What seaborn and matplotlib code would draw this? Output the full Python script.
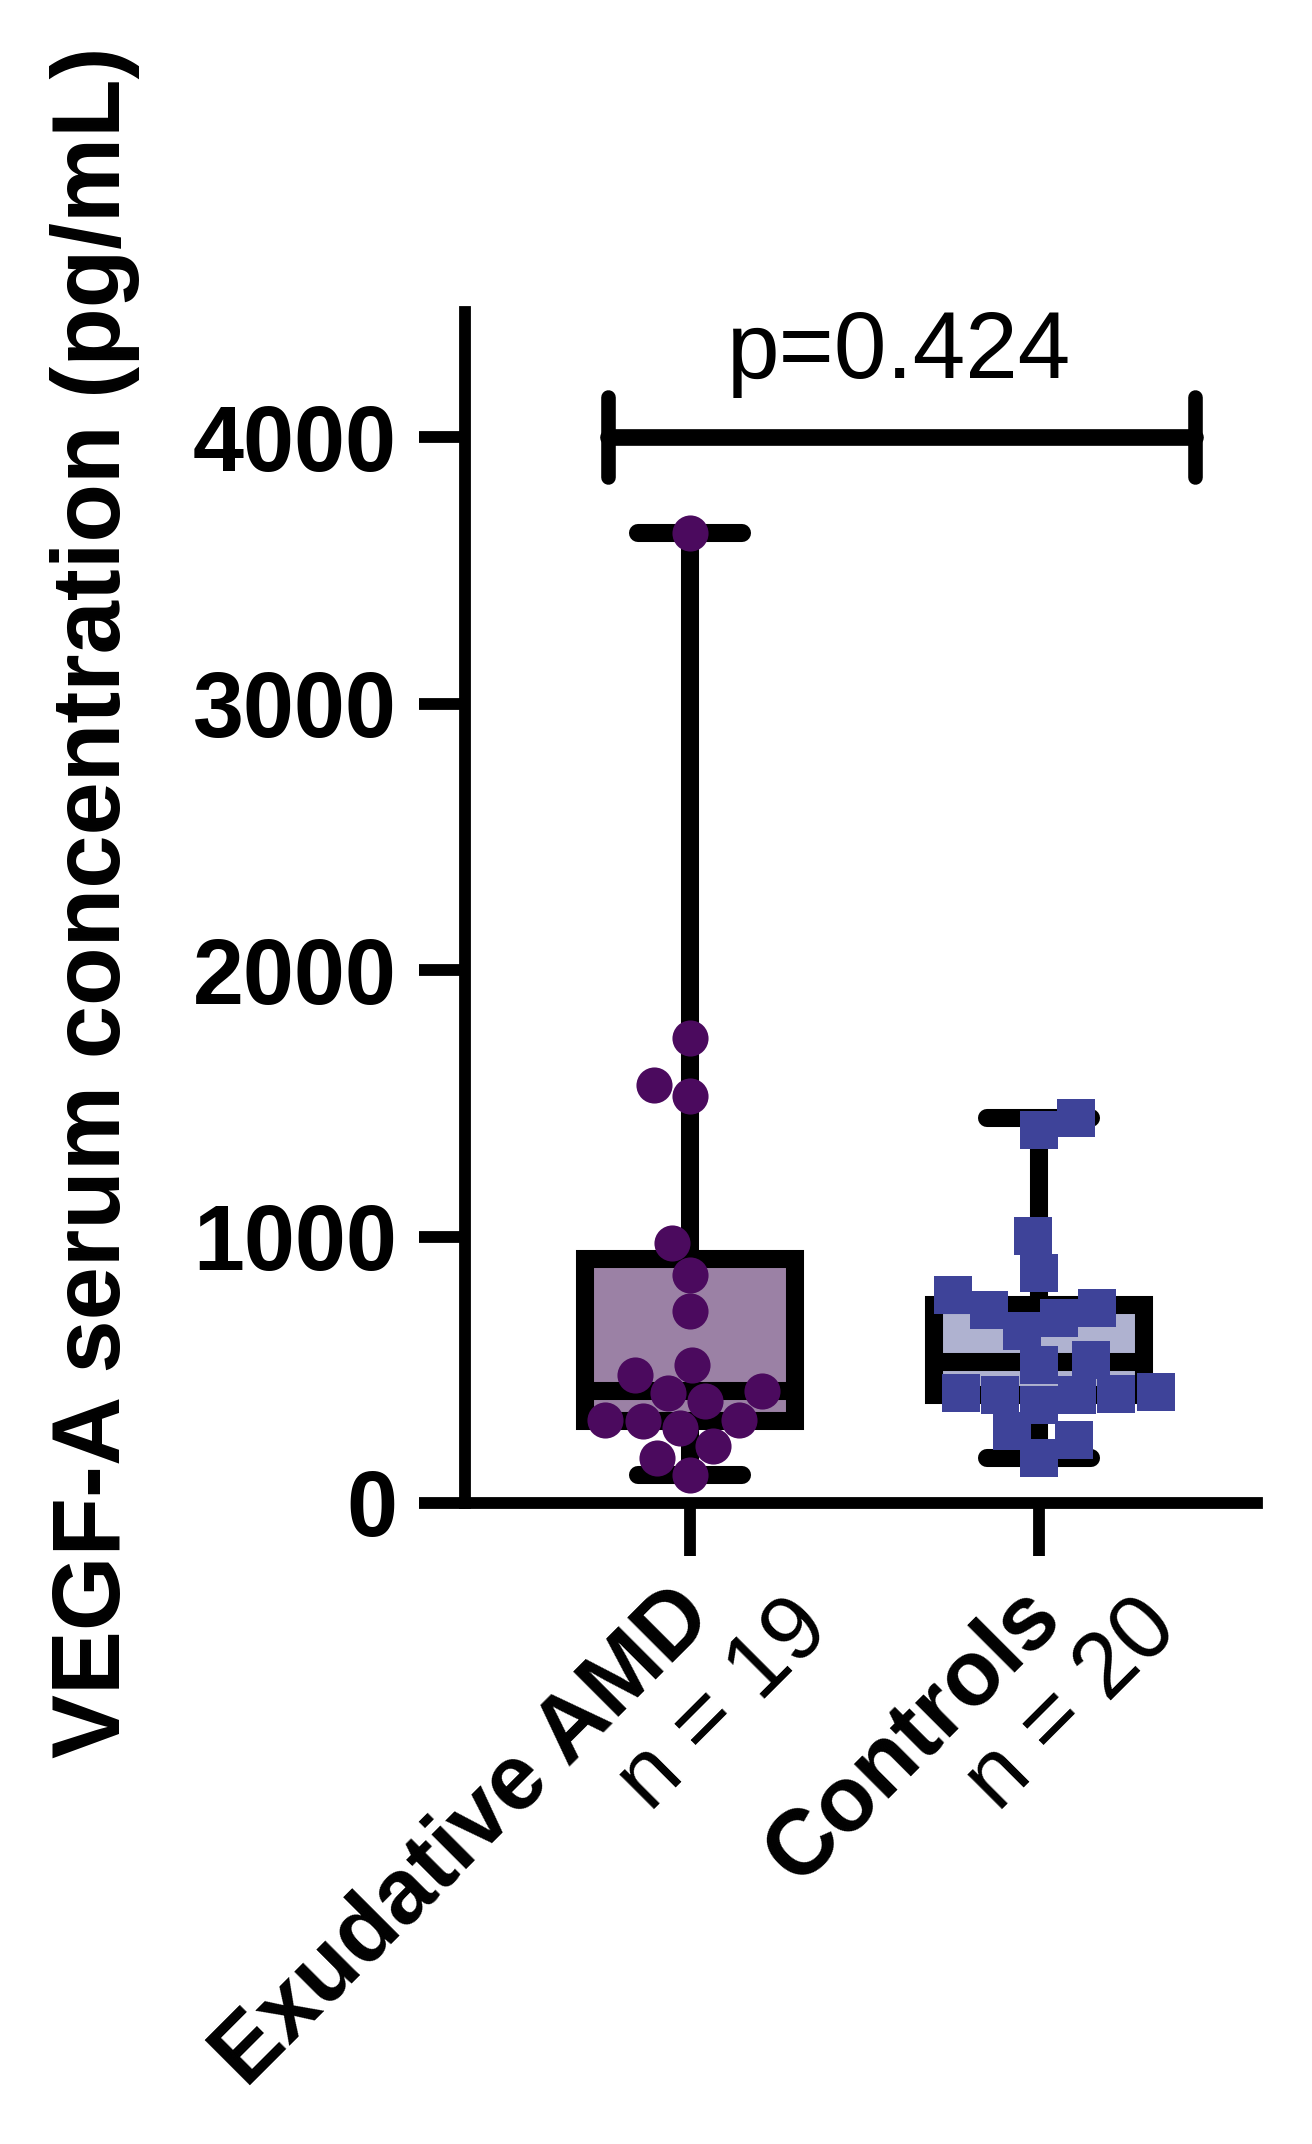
import pandas as pd
import matplotlib
matplotlib.use("Agg")
import matplotlib.pyplot as plt
import seaborn as sns

# data (pg/mL)
groups = ["Exudative AMD", "Controls"]
n_labels = ["n = 19", "n = 20"]
amd_values = [3640, 1745, 1568, 1527, 975, 856, 720, 518, 481, 420,
              413, 383, 307, 312, 310, 281, 213, 169, 105]
control_values = [1445, 1400, 1002, 863, 781, 732, 724, 694, 645, 537,
                  518, 417, 413, 410, 405, 405, 368, 270, 236, 169]
y_ticks = [0, 1000, 2000, 3000, 4000]
p_text = "p=0.424"

box_fills = ["#9E7BAB", "#A9ADD6"]
point_colors = ["#4B0A5E", "#3E4399"]
point_markers = ["o", "s"]
point_sizes = [26, 27]

df = pd.DataFrame({
    "group": [groups[0]] * len(amd_values) + [groups[1]] * len(control_values),
    "value": amd_values + control_values,
})

sns.set_style("ticks")
plt.rcParams["font.family"] = ["Liberation Sans", "DejaVu Sans"]
plt.rcParams["text.color"] = "black"
plt.rcParams["axes.labelcolor"] = "black"
plt.rcParams["xtick.color"] = "black"
plt.rcParams["ytick.color"] = "black"

fig = plt.figure(figsize=(13.12, 21.44), dpi=100)
ax = fig.add_axes([0.3544, 0.299, 0.6037, 0.5555])

sns.boxplot(data=df, x="group", y="value", hue="group", order=groups,
            hue_order=groups, palette=box_fills, width=0.6, whis=(0, 100),
            linewidth=13, linecolor="black", showfliers=False, legend=False,
            capprops={"solid_capstyle": "round"},
            whiskerprops={"solid_capstyle": "round"}, ax=ax)

for g, c, m, s in zip(groups, point_colors, point_markers, point_sizes):
    sns.swarmplot(data=df[df["group"] == g], x="group", y="value", order=groups,
                  color=c, marker=m, size=s, linewidth=0, zorder=5, ax=ax)

# significance bar
ax.plot([-0.235, 1.447], [4000, 4000], color="black", lw=12,
        solid_capstyle="round", zorder=6)
for xb in [-0.235, 1.447]:
    ax.plot([xb, xb], [3850, 4150], color="black", lw=10.5,
            solid_capstyle="round", zorder=6)
ax.text(0.6, 4223, p_text, ha="center", va="baseline", fontsize=68)

ax.set_xlim(-0.645, 1.625)
ax.set_ylim(0, 4470)
ax.set_yticks(y_ticks)
ax.set_yticklabels([str(t) for t in y_ticks], fontsize=66, fontweight="bold")
ax.set_xticks([0, 1])
ax.set_xticklabels(["", ""])
ax.tick_params(axis="y", length=33, width=8.5, pad=16, color="black")
ax.tick_params(axis="x", length=38, width=8.5, color="black")
for side in ["top", "right"]:
    ax.spines[side].set_visible(False)
for side in ["left", "bottom"]:
    ax.spines[side].set_linewidth(8.5)
    ax.spines[side].set_color("black")

ax.set_xlabel("")
ax.set_ylabel("VEGF-A serum concentration (pg/mL)", fontsize=69,
              fontweight="bold")
ax.yaxis.set_label_coords(-0.41, 0.504)

# two-line rotated category labels
for i, (g, n) in enumerate(zip(groups, n_labels)):
    ax.annotate(g, xy=(i, 0), xycoords=("data", "axes fraction"),
                xytext=(6, -72), textcoords="offset points", rotation=45,
                ha="right", va="center", rotation_mode="anchor",
                fontsize=66, fontweight="bold")
    ax.annotate(n, xy=(i, 0), xycoords=("data", "axes fraction"),
                xytext=(90, -80), textcoords="offset points", rotation=45,
                ha="right", va="center", rotation_mode="anchor",
                fontsize=66)

fig.savefig("out.png", dpi=100)
